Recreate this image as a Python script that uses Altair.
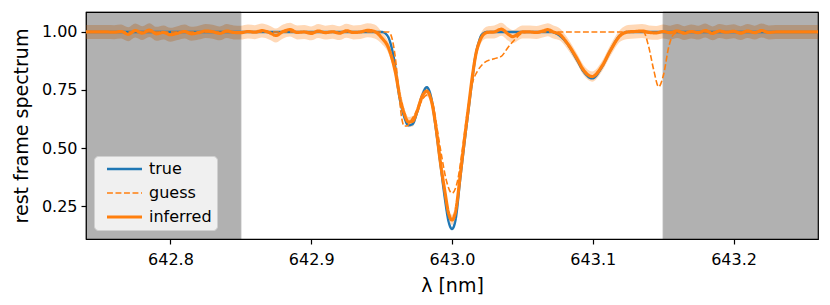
import altair as alt
import pandas as pd

# ---------------- data ----------------
series_names = ["true", "guess", "inferred"]
series_colors = ["#1f77b4", "#ff7f0e", "#ff7f0e"]

wl_true = [642.74, 642.95, 642.954, 642.9585, 642.963, 642.966, 642.969, 642.972,
           642.975, 642.979, 642.982, 642.9858, 642.9885, 642.9917, 642.995, 642.9975,
           643.0, 643.0025, 643.006, 643.009, 643.012, 643.0145, 643.0166, 643.019,
           643.021, 643.025, 643.07, 643.075, 643.0817, 643.0888, 643.0935, 643.0995,
           643.1066, 643.1125, 643.1196, 643.125, 643.26]
flux_true = [1.0, 1.0, 0.985, 0.894, 0.707, 0.635, 0.598, 0.603,
             0.65, 0.73, 0.762, 0.70, 0.585, 0.435, 0.28, 0.185,
             0.151, 0.19, 0.376, 0.53, 0.678, 0.80, 0.894, 0.955,
             0.987, 1.0, 1.0, 0.99, 0.951, 0.879, 0.829, 0.80,
             0.85, 0.92, 0.987, 1.0, 1.0]

wl_guess = [642.74, 642.955, 642.9575, 642.9595, 642.962, 642.964, 642.966, 642.968,
            642.971, 642.975, 642.979, 642.983, 642.9865, 642.9895, 642.9925, 642.996,
            643.0, 643.004, 643.0075, 643.011, 643.0145, 643.018, 643.0225, 643.03,
            643.035, 643.04, 643.045, 643.05, 643.055, 643.136, 643.1397, 643.1433,
            643.1468, 643.1504, 643.154, 643.1575, 643.162, 643.26]
flux_guess = [1.0, 1.0, 0.97, 0.90, 0.76, 0.64, 0.595, 0.595,
              0.62, 0.66, 0.71, 0.73, 0.69, 0.58, 0.47, 0.36,
              0.305, 0.36, 0.50, 0.66, 0.78, 0.83, 0.865, 0.885,
              0.895, 0.935, 0.97, 0.995, 1.0, 1.0, 0.937, 0.836,
              0.764, 0.819, 0.937, 0.99, 1.0, 1.0]

wl_inf = [642.740, 642.745, 642.750, 642.755, 642.760, 642.765, 642.770, 642.775,
          642.780, 642.785, 642.790, 642.795, 642.800, 642.805, 642.810, 642.815,
          642.820, 642.825, 642.830, 642.835, 642.840, 642.845, 642.850, 642.855,
          642.860, 642.865, 642.870, 642.875, 642.880, 642.885, 642.890, 642.895,
          642.900, 642.905, 642.910, 642.915, 642.920, 642.925, 642.930, 642.935,
          642.940, 642.945, 642.950, 642.955, 642.960, 642.963, 642.966, 642.969,
          642.972, 642.975, 642.979, 642.982, 642.9855, 642.9885, 642.9915, 642.995,
          642.9975, 643.000, 643.0025, 643.006, 643.009, 643.012, 643.0145, 643.017,
          643.020, 643.0225, 643.025, 643.030, 643.035, 643.040, 643.043, 643.050,
          643.055, 643.060, 643.065, 643.068, 643.072, 643.0765, 643.0817, 643.0888,
          643.0935, 643.0995, 643.1066, 643.1125, 643.1196, 643.125, 643.130, 643.135,
          643.140, 643.145, 643.150, 643.155, 643.160, 643.165, 643.170, 643.175,
          643.180, 643.185, 643.190, 643.195, 643.200, 643.205, 643.210, 643.215,
          643.220, 643.225, 643.230, 643.235, 643.240, 643.245, 643.250, 643.255,
          643.260]
flux_inf = [1.000, 1.000, 1.000, 1.000, 0.999, 1.002, 0.990, 1.006,
            0.995, 1.008, 0.992, 0.998, 0.988, 0.995, 1.002, 0.992,
            0.997, 1.004, 1.001, 0.994, 1.004, 0.998, 0.997, 1.002,
            0.999, 1.006, 0.998, 0.985, 1.002, 1.010, 0.998, 1.000,
            0.994, 1.004, 0.997, 1.001, 0.995, 1.005, 0.998, 1.000,
            1.007, 1.002, 0.975, 0.930, 0.820, 0.720, 0.650, 0.612,
            0.615, 0.655, 0.725, 0.745, 0.700, 0.595, 0.450, 0.310,
            0.220, 0.190, 0.225, 0.390, 0.545, 0.690, 0.810, 0.905,
            0.965, 0.990, 0.998, 1.000, 1.012, 0.990, 0.980, 1.000,
            1.000, 0.998, 1.005, 1.010, 1.000, 0.990, 0.953, 0.885,
            0.835, 0.808, 0.853, 0.920, 0.985, 1.000, 1.002, 1.004,
            0.998, 0.996, 1.002, 0.997, 1.004, 0.995, 1.002, 0.997,
            1.006, 0.994, 1.004, 0.999, 1.003, 0.995, 1.004, 0.997,
            1.006, 0.998, 1.000, 1.000, 1.000, 1.000, 1.000, 1.000,
            1.000]
sigma_inf = ([0.030] * 42
             + [0.026, 0.024] + [0.022] * 21 + [0.024, 0.026]
             + [0.028] * 10
             + [0.026, 0.024, 0.022, 0.022, 0.022, 0.022, 0.024, 0.026]
             + [0.030] * 28)

mask_start = [642.74, 643.15]
mask_end = [642.85, 643.26]

x_domain = [642.74, 643.26]
y_domain = [0.108, 1.086]
x_ticks = [642.8, 642.9, 643.0, 643.1, 643.2]
y_ticks = [0.25, 0.50, 0.75, 1.00]

# ---------------- tables ----------------
df_lines = pd.concat([
    pd.DataFrame({"wl": wl_true, "flux": flux_true, "series": "true"}),
    pd.DataFrame({"wl": wl_guess, "flux": flux_guess, "series": "guess"}),
    pd.DataFrame({"wl": wl_inf, "flux": flux_inf, "series": "inferred"}),
], ignore_index=True)

df_band = pd.DataFrame({"wl": wl_inf, "flux": flux_inf, "sigma": sigma_inf})
df_band["lo"] = df_band["flux"] - df_band["sigma"]
df_band["hi"] = df_band["flux"] + df_band["sigma"]

df_mask = pd.DataFrame({"start": mask_start, "end": mask_end})

W, H = 732, 227

xs = alt.Scale(domain=x_domain, nice=False, zero=False)
ys = alt.Scale(domain=y_domain, nice=False, zero=False)

x_axis = alt.Axis(values=x_ticks, format=".1f", title="λ [nm]")
y_axis = alt.Axis(values=y_ticks, format=".2f", title="rest frame spectrum")

band = alt.Chart(df_band).mark_area(color="#ff7f0e", opacity=0.3, interpolate="monotone").encode(
    x=alt.X("wl:Q", scale=xs, axis=x_axis),
    y=alt.Y("lo:Q", scale=ys, axis=y_axis),
    y2="hi:Q",
)

mask = alt.Chart(df_mask).mark_rect(color="black", opacity=0.3, stroke="black", strokeWidth=1).encode(
    x=alt.X("start:Q", scale=xs),
    x2="end:Q",
    y=alt.value(0),
    y2=alt.value(H),
)

enc = dict(
    x=alt.X("wl:Q", scale=xs, axis=x_axis),
    y=alt.Y("flux:Q", scale=ys, axis=y_axis),
    color=alt.Color("series:N", scale=alt.Scale(domain=series_names, range=series_colors), title=None),
    strokeDash=alt.StrokeDash("series:N", scale=alt.Scale(domain=series_names, range=[[1, 0], [5.9, 2.6], [1, 0]]), title=None),
    strokeWidth=alt.StrokeWidth("series:N", scale=alt.Scale(type="ordinal", domain=series_names, range=[2.4, 1.6, 3.2]), title=None),
)

layers = []
for name in series_names:
    layers.append(
        alt.Chart(df_lines).transform_filter(alt.datum.series == name)
        .mark_line(interpolate="monotone").encode(**enc)
    )

chart = alt.layer(band, mask, *layers).properties(
    width=W, height=H,
    padding={"left": 78, "top": 4, "right": 4, "bottom": 62},
    autosize="none",
    background="white",
).configure_view(
    stroke="black", strokeWidth=1.2
).configure_axis(
    labelFont="DejaVu Sans", titleFont="DejaVu Sans",
    labelFontSize=16, titleFontSize=19, titleFontWeight="normal",
    labelColor="black", titleColor="black",
    tickColor="black", tickSize=5, tickWidth=1.2,
    domain=False, grid=False,
).configure_axisY(
    titlePadding=10, labelPadding=4,
).configure_axisX(
    titlePadding=9, labelPadding=7,
).configure_legend(
    orient="none", legendX=8, legendY=144,
    labelFont="DejaVu Sans", labelFontSize=16, labelColor="black",
    symbolType="M0,0H8.75", symbolSize=64,
    fillColor="#f0f0f0", strokeColor="#d0d0d0", cornerRadius=4,
    padding=5, labelOffset=34, rowPadding=8,
)

chart.save("out.html", embed_options={"renderer": "svg", "actions": False})
